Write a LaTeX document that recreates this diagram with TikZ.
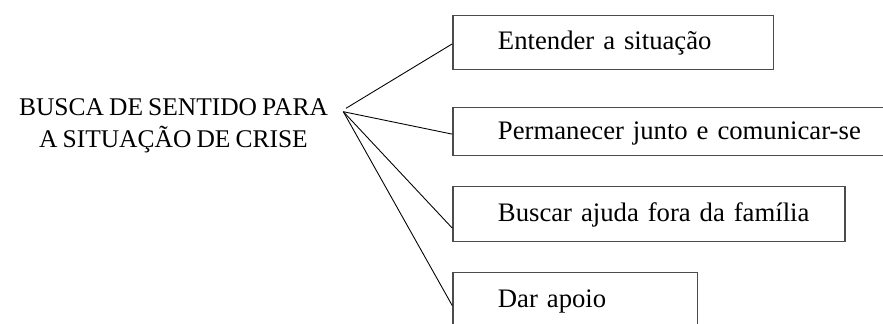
\documentclass[tikz,border=0pt]{standalone}
\usepackage{fontspec}
\setmainfont{Liberation Serif}
\newcommand\apertado{\spaceskip=.2em\relax}
\tikzset{
  caixa/.style={draw=black!70,line width=.75pt,anchor=north west,inner xsep=0pt,align=left,
    execute at begin node={\hspace*{.9cm}},
    text height=11.5pt,text depth=2.8pt,font=\fontsize{15.2}{18}\selectfont},
  liga/.style={black,line width=.5pt}
}
\begin{document}
\begin{tikzpicture}
    \useasboundingbox (0,0) rectangle (17.66,6.48);
    \clip (0,0) rectangle (17.66,6.48);
    % tema central ====================================================
    \node[align=center,font=\fontsize{14.5}{18}\selectfont\apertado] (BS) at (3.47,3.96) {BUSCA DE SENTIDO PARA\\A SITUAÇÃO DE CRISE};
    \coordinate (H1) at (6.92,4.314);
    \coordinate (H2) at (6.866,4.246);
    % categorias ======================================================
    \node[caixa,text width=6.414cm,minimum height=1.08cm] (C1) at (9.046,6.186) {Entender a situação};
    \node[caixa,text width=9.354cm,minimum height=0.96cm] (C2) at (9.046,4.34)  {Permanecer junto e comunicar-se};
    \node[caixa,text width=7.84cm, minimum height=1.1cm]  (C3) at (9.046,2.76)  {Buscar ajuda fora da família};
    \node[caixa,text width=4.894cm,minimum height=1.08cm] (C4) at (9.046,1.04)  {Dar apoio};
    % ligações
    \draw[liga] (H1) -- ([yshift=-.03cm]C1.west);
    \draw[liga] (H2) -- ([yshift=-.05cm]C2.west);
    \draw[liga] (H2) -- ([yshift=-.28cm]C3.west);
    \draw[liga] (H2) -- ([yshift=-.12cm]C4.west);
\end{tikzpicture}
\end{document}
